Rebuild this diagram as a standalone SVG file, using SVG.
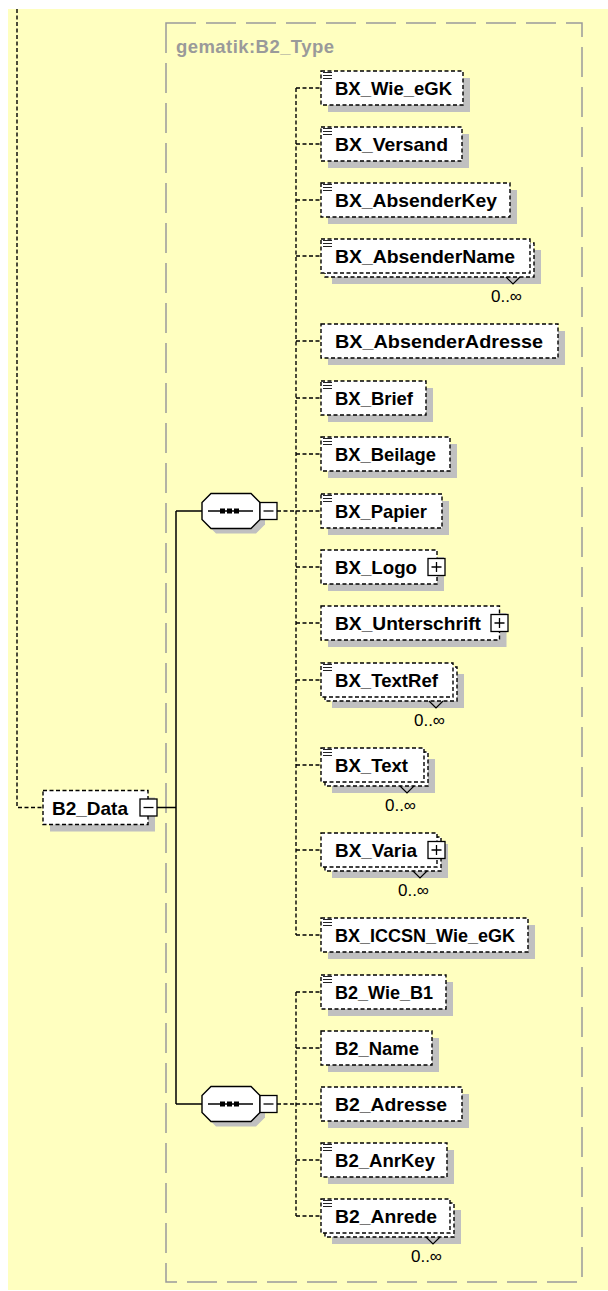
<svg xmlns="http://www.w3.org/2000/svg" width="608" height="1291" viewBox="0 0 608 1291">
<style>
.bg{fill:#ffffc0}
.tb{fill:none;stroke:#9a9a9a;stroke-width:1.5;stroke-dasharray:30 10}
.tt{font-family:"Liberation Sans",Arial,sans-serif;font-weight:bold;font-size:18.5px;fill:#9a9a9a}
.sh{fill:#c0c0c0}
.bx{fill:#fff;stroke:#000;stroke-width:1.4;stroke-dasharray:4 2.5}
.lbl{font-family:"Liberation Sans",Arial,sans-serif;font-weight:bold;font-size:19px;fill:#000}
.mul{font-family:"Liberation Sans",Arial,sans-serif;font-size:17px;fill:#000;text-anchor:end}
.ic{stroke:#222;stroke-width:1;fill:none}
.v{stroke:#000;stroke-width:1.2;fill:none}
.btn{fill:#fff;stroke:#000;stroke-width:1.3}
.bl{stroke:#000;stroke-width:1.3;fill:none}
.cd{fill:none;stroke:#000;stroke-width:1.4;stroke-dasharray:4 2.5}
.cs{fill:none;stroke:#000;stroke-width:1.5}
.oct{fill:#fff;stroke:#000;stroke-width:1.4}
</style>
<rect x="0" y="0" width="608" height="1291" fill="#fff"/>
<rect class="bg" x="8" y="9" width="600" height="1281"/>
<g id="type-box">
<rect class="tb" x="166" y="23" width="416" height="1259"/>
<text class="tt" x="176" y="53" textLength="158">gematik:B2_Type</text>
</g>
<g id="connectors">
<path class="cd" d="M17 9V807.5H43"/>
<path class="cs" d="M157 807.5H176M176 511V1104M176 511H202M176 1104H202"/>
<path class="cd" d="M277 511H296M296 88V935M296 88H321M296 144H321M296 200H321M296 256H321M296 341H321M296 398H321M296 454H321M296 511H321M296 567H321M296 623H321M296 680H321M296 765H321M296 850H321M296 935H321"/>
<path class="cd" d="M277 1104H296M296 992V1216M296 992H321M296 1048H321M296 1104H321M296 1160H321M296 1216H321"/>
</g>
<g id="B2_Data">
<rect class="sh" x="50" y="797.5" width="105" height="34"/>
<rect class="bx" x="43" y="790.5" width="105" height="34"/>
<text class="lbl" x="52" y="814.5" textLength="76" lengthAdjust="spacingAndGlyphs">B2_Data</text>
<rect class="btn" x="140" y="799" width="17" height="17"/>
<path class="bl" d="M143.5 807.5h10"/>
</g>
<g id="seq1">
<polygon class="sh" transform="translate(5,5)" points="211,493.5 251,493.5 260,502.5 260,519.5 251,528.5 211,528.5 202,519.5 202,502.5"/>
<polygon class="oct" points="211,493.5 251,493.5 260,502.5 260,519.5 251,528.5 211,528.5 202,519.5 202,502.5"/>
<path class="cs" d="M208 511H253"/>
<rect x="220" y="508.5" width="5" height="5"/><rect x="227" y="508.5" width="5" height="5"/><rect x="234" y="508.5" width="5" height="5"/>
<rect class="btn" x="260" y="502.5" width="17" height="17"/>
<path class="bl" d="M263.5 511h10"/>
</g>
<g id="seq2">
<polygon class="sh" transform="translate(5,5)" points="211,1086.5 251,1086.5 260,1095.5 260,1112.5 251,1121.5 211,1121.5 202,1112.5 202,1095.5"/>
<polygon class="oct" points="211,1086.5 251,1086.5 260,1095.5 260,1112.5 251,1121.5 211,1121.5 202,1112.5 202,1095.5"/>
<path class="cs" d="M208 1104H253"/>
<rect x="220" y="1101.5" width="5" height="5"/><rect x="227" y="1101.5" width="5" height="5"/><rect x="234" y="1101.5" width="5" height="5"/>
<rect class="btn" x="260" y="1095.5" width="17" height="17"/>
<path class="bl" d="M263.5 1104h10"/>
</g>
<g id="BX_Wie_eGK">
<rect class="sh" x="328" y="78" width="142" height="34"/>
<rect class="bx" x="321" y="71" width="142" height="34"/>
<path class="ic" d="M323 72.5h9M323 75.5h9M323 78.5h9"/>
<text class="lbl" x="335" y="95" textLength="117" lengthAdjust="spacingAndGlyphs">BX_Wie_eGK</text>
</g>
<g id="BX_Versand">
<rect class="sh" x="328" y="134" width="141" height="34"/>
<rect class="bx" x="321" y="127" width="141" height="34"/>
<path class="ic" d="M323 128.5h9M323 131.5h9M323 134.5h9"/>
<text class="lbl" x="335" y="151" textLength="113" lengthAdjust="spacingAndGlyphs">BX_Versand</text>
</g>
<g id="BX_AbsenderKey">
<rect class="sh" x="328" y="190" width="189" height="34"/>
<rect class="bx" x="321" y="183" width="189" height="34"/>
<path class="ic" d="M323 184.5h9M323 187.5h9M323 190.5h9"/>
<text class="lbl" x="335" y="207" textLength="162" lengthAdjust="spacingAndGlyphs">BX_AbsenderKey</text>
</g>
<g id="BX_AbsenderName">
<rect class="sh" x="332" y="250" width="209" height="34"/>
<rect class="bx" x="325" y="243" width="209" height="34"/>
<rect class="bx" x="321" y="239" width="209" height="34"/>
<path class="ic" d="M323 240.5h9M323 243.5h9M323 246.5h9"/>
<text class="lbl" x="335" y="263" textLength="180" lengthAdjust="spacingAndGlyphs">BX_AbsenderName</text>
<polyline class="v" points="506,277 513,284 520,277"/>
<text class="mul" x="522" y="302">0..∞</text>
</g>
<g id="BX_AbsenderAdresse">
<rect class="sh" x="328" y="331" width="237" height="34"/>
<rect class="bx" x="321" y="324" width="237" height="34"/>
<text class="lbl" x="335" y="348" textLength="208" lengthAdjust="spacingAndGlyphs">BX_AbsenderAdresse</text>
</g>
<g id="BX_Brief">
<rect class="sh" x="328" y="388" width="105" height="34"/>
<rect class="bx" x="321" y="381" width="105" height="34"/>
<path class="ic" d="M323 382.5h9M323 385.5h9M323 388.5h9"/>
<text class="lbl" x="335" y="405" textLength="78" lengthAdjust="spacingAndGlyphs">BX_Brief</text>
</g>
<g id="BX_Beilage">
<rect class="sh" x="328" y="444" width="129" height="34"/>
<rect class="bx" x="321" y="437" width="129" height="34"/>
<path class="ic" d="M323 438.5h9M323 441.5h9M323 444.5h9"/>
<text class="lbl" x="335" y="461" textLength="101" lengthAdjust="spacingAndGlyphs">BX_Beilage</text>
</g>
<g id="BX_Papier">
<rect class="sh" x="328" y="501" width="121" height="34"/>
<rect class="bx" x="321" y="494" width="121" height="34"/>
<path class="ic" d="M323 495.5h9M323 498.5h9M323 501.5h9"/>
<text class="lbl" x="335" y="518" textLength="92" lengthAdjust="spacingAndGlyphs">BX_Papier</text>
</g>
<g id="BX_Logo">
<rect class="sh" x="328" y="557" width="116" height="34"/>
<rect class="bx" x="321" y="550" width="116" height="34"/>
<text class="lbl" x="335" y="574" textLength="82" lengthAdjust="spacingAndGlyphs">BX_Logo</text>
<rect class="btn" x="428" y="558.5" width="17" height="17"/>
<path class="bl" d="M431.5 567h10M436.5 562v10"/>
</g>
<g id="BX_Unterschrift">
<rect class="sh" x="328" y="613" width="178.5" height="34"/>
<rect class="bx" x="321" y="606" width="178.5" height="34"/>
<text class="lbl" x="335" y="630" textLength="146" lengthAdjust="spacingAndGlyphs">BX_Unterschrift</text>
<rect class="btn" x="491" y="614.5" width="17" height="17"/>
<path class="bl" d="M494.5 623h10M499.5 618v10"/>
</g>
<g id="BX_TextRef">
<rect class="sh" x="332" y="674" width="132" height="34"/>
<rect class="bx" x="325" y="667" width="132" height="34"/>
<rect class="bx" x="321" y="663" width="132" height="34"/>
<path class="ic" d="M323 664.5h9M323 667.5h9M323 670.5h9"/>
<text class="lbl" x="335" y="687" textLength="103" lengthAdjust="spacingAndGlyphs">BX_TextRef</text>
<polyline class="v" points="429,701 436,708 443,701"/>
<text class="mul" x="445" y="726">0..∞</text>
</g>
<g id="BX_Text">
<rect class="sh" x="332" y="759" width="103" height="34"/>
<rect class="bx" x="325" y="752" width="103" height="34"/>
<rect class="bx" x="321" y="748" width="103" height="34"/>
<path class="ic" d="M323 749.5h9M323 752.5h9M323 755.5h9"/>
<text class="lbl" x="335" y="772" textLength="73" lengthAdjust="spacingAndGlyphs">BX_Text</text>
<polyline class="v" points="400,786 407,793 414,786"/>
<text class="mul" x="416" y="811">0..∞</text>
</g>
<g id="BX_Varia">
<rect class="sh" x="332" y="844" width="116" height="34"/>
<rect class="bx" x="325" y="837" width="116" height="34"/>
<rect class="bx" x="321" y="833" width="116" height="34"/>
<text class="lbl" x="335" y="857" textLength="82" lengthAdjust="spacingAndGlyphs">BX_Varia</text>
<rect class="btn" x="428" y="841.5" width="17" height="17"/>
<path class="bl" d="M431.5 850h10M436.5 845v10"/>
<polyline class="v" points="413,871 420,878 427,871"/>
<text class="mul" x="429" y="896">0..∞</text>
</g>
<g id="BX_ICCSN_Wie_eGK">
<rect class="sh" x="328" y="925" width="207" height="34"/>
<rect class="bx" x="321" y="918" width="207" height="34"/>
<path class="ic" d="M323 919.5h9M323 922.5h9M323 925.5h9"/>
<text class="lbl" x="335" y="942" textLength="180" lengthAdjust="spacingAndGlyphs">BX_ICCSN_Wie_eGK</text>
</g>
<g id="B2_Wie_B1">
<rect class="sh" x="328" y="982" width="125" height="34"/>
<rect class="bx" x="321" y="975" width="125" height="34"/>
<path class="ic" d="M323 976.5h9M323 979.5h9M323 982.5h9"/>
<text class="lbl" x="335" y="999" textLength="98" lengthAdjust="spacingAndGlyphs">B2_Wie_B1</text>
</g>
<g id="B2_Name">
<rect class="sh" x="328" y="1038" width="111" height="34"/>
<rect class="bx" x="321" y="1031" width="111" height="34"/>
<text class="lbl" x="335" y="1055" textLength="84" lengthAdjust="spacingAndGlyphs">B2_Name</text>
</g>
<g id="B2_Adresse">
<rect class="sh" x="328" y="1094" width="141" height="34"/>
<rect class="bx" x="321" y="1087" width="141" height="34"/>
<text class="lbl" x="335" y="1111" textLength="112" lengthAdjust="spacingAndGlyphs">B2_Adresse</text>
</g>
<g id="B2_AnrKey">
<rect class="sh" x="328" y="1150" width="126" height="34"/>
<rect class="bx" x="321" y="1143" width="126" height="34"/>
<path class="ic" d="M323 1144.5h9M323 1147.5h9M323 1150.5h9"/>
<text class="lbl" x="335" y="1167" textLength="100" lengthAdjust="spacingAndGlyphs">B2_AnrKey</text>
</g>
<g id="B2_Anrede">
<rect class="sh" x="332" y="1210" width="129" height="34"/>
<rect class="bx" x="325" y="1203" width="129" height="34"/>
<rect class="bx" x="321" y="1199" width="129" height="34"/>
<path class="ic" d="M323 1200.5h9M323 1203.5h9M323 1206.5h9"/>
<text class="lbl" x="335" y="1223" textLength="102" lengthAdjust="spacingAndGlyphs">B2_Anrede</text>
<polyline class="v" points="426,1237 433,1244 440,1237"/>
<text class="mul" x="442" y="1262">0..∞</text>
</g>
</svg>
